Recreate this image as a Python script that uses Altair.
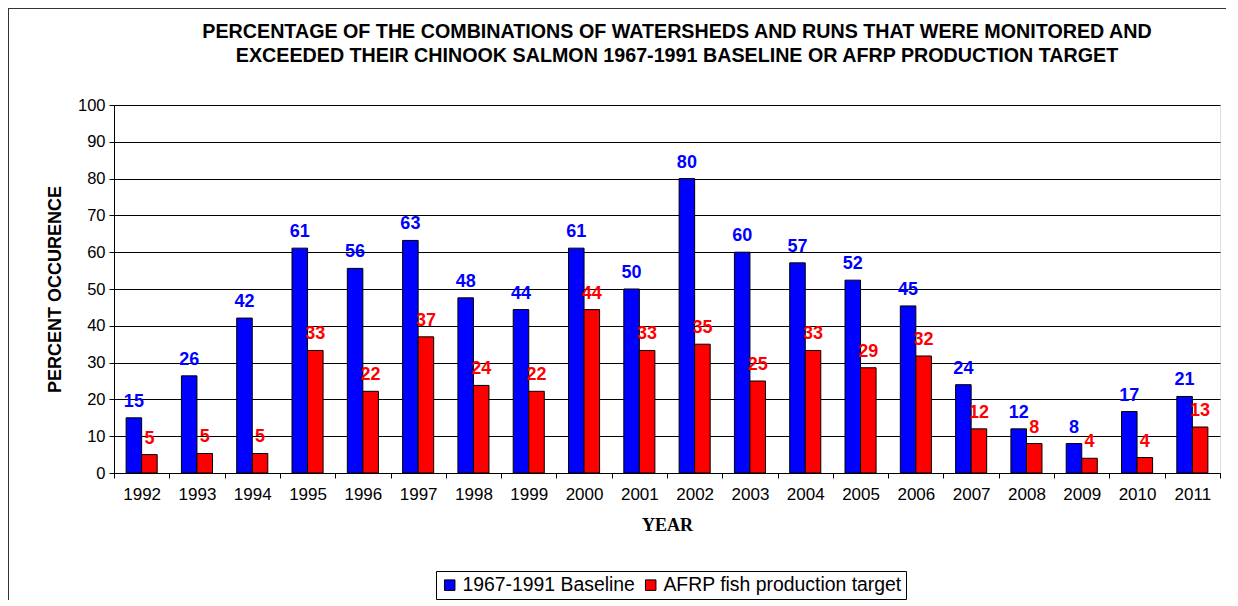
import altair as alt
import pandas as pd

years = [str(y) for y in range(1992, 2012)]
baseline = [15.0, 26.4, 42.1, 61.1, 55.6, 63.2, 47.6, 44.4, 61.1, 50.0,
            80.0, 60.0, 57.1, 52.4, 45.4, 24.0, 12.0, 8.0, 16.7, 20.8]
afrp = [5.0, 5.3, 5.3, 33.3, 22.2, 37.0, 23.8, 22.2, 44.4, 33.3,
        35.0, 25.0, 33.3, 28.6, 31.8, 12.0, 8.0, 4.0, 4.2, 12.5]
series_names = ["1967-1991 Baseline", "AFRP fish production target"]
series_colors = ["#0000FF", "#FF0000"]

rows = []
for i, y in enumerate(years):
    rows.append({"year": y, "series": series_names[0], "value": baseline[i]})
    rows.append({"year": y, "series": series_names[1], "value": afrp[i]})
df = pd.DataFrame(rows)

FONT = "Liberation Sans"

x_enc = alt.X("year:N", sort=years, title="YEAR",
              scale=alt.Scale(paddingInner=0, paddingOuter=0),
              axis=alt.Axis(labelAngle=0, tickBand="extent", labelFontSize=17,
                            labelFont=FONT, labelColor="#000", labelPadding=8,
                            tickSize=5, tickColor="#000", domainColor="#000",
                            titleFont="Liberation Serif", titleFontSize=18,
                            titleFontWeight="bold", titlePadding=14,
                            titleColor="#000", grid=False))
xoff_enc = alt.XOffset("series:N", sort=series_names,
                       scale=alt.Scale(paddingInner=0, paddingOuter=0.78))
y_enc = alt.Y("value:Q", title="PERCENT OCCURENCE",
              scale=alt.Scale(domain=[0, 100], nice=False),
              axis=alt.Axis(values=list(range(0, 101, 10)), labelFontSize=16.5,
                            labelFont=FONT, labelColor="#000", labelPadding=4,
                            tickSize=5, tickColor="#000", domainColor="#000",
                            gridColor="#000", gridWidth=1, labelOverlap=False,
                            titleFont=FONT, titleFontSize=18, titleFontWeight="bold",
                            titlePadding=13, titleColor="#000"))

bars = alt.Chart(df).mark_bar(stroke="#000", strokeWidth=1).encode(
    x=x_enc,
    xOffset=xoff_enc,
    y=y_enc,
    color=alt.Color("series:N", sort=series_names,
                    scale=alt.Scale(domain=series_names, range=series_colors),
                    legend=alt.Legend(title=None, orient="none", legendX=322, legendY=466,
                                      direction="horizontal", columns=2,
                                      strokeColor="#000", padding=4,
                                      symbolType="square", symbolSize=110,
                                      symbolStrokeColor="#000", symbolStrokeWidth=1,
                                      symbolOpacity=1, labelLimit=500,
                                      labelFont=FONT, labelFontSize=19.4, labelColor="#000",
                                      labelOffset=3, columnPadding=6,
                                      fillColor="#fff")),
)

labels = alt.Chart(df).mark_text(baseline="bottom", dy=-7, fontSize=18,
                                 fontWeight="bold", font=FONT).encode(
    x=x_enc,
    xOffset=xoff_enc,
    y=y_enc,
    text=alt.Text("value:Q", format=".0f"),
    color=alt.condition(alt.datum.series == series_names[0],
                        alt.value(series_colors[0]), alt.value(series_colors[1])),
)

border_left = alt.Chart(df).mark_rule(color="#333", strokeWidth=1).encode(
    x=alt.value(-105.5), y=alt.value(-96.5), y2=alt.value(520))
border_top = alt.Chart(df).mark_rule(color="#333", strokeWidth=1).encode(
    x=alt.value(-105.5), x2=alt.value(1115), y=alt.value(-96.5))

chart = alt.layer(bars, labels, border_left, border_top).properties(
    width=1106, height=368,
    title=alt.Title(
        ["PERCENTAGE OF THE COMBINATIONS OF WATERSHEDS AND RUNS THAT WERE MONITORED AND",
         "EXCEEDED THEIR CHINOOK SALMON 1967-1991 BASELINE OR AFRP PRODUCTION TARGET"],
        font=FONT, fontSize=19.7, fontWeight="bold", color="#000", lineHeight=24,
        anchor="middle", frame="group", offset=-58, dx=10),
    autosize=alt.AutoSizeParams(type="none"),
    padding={"left": 106, "top": 97, "right": 6, "bottom": 127},
).configure_view(stroke="#808080", strokeWidth=1).configure(background="#fff")

chart.save("out.html", embed_options={"renderer": "svg", "actions": False})
